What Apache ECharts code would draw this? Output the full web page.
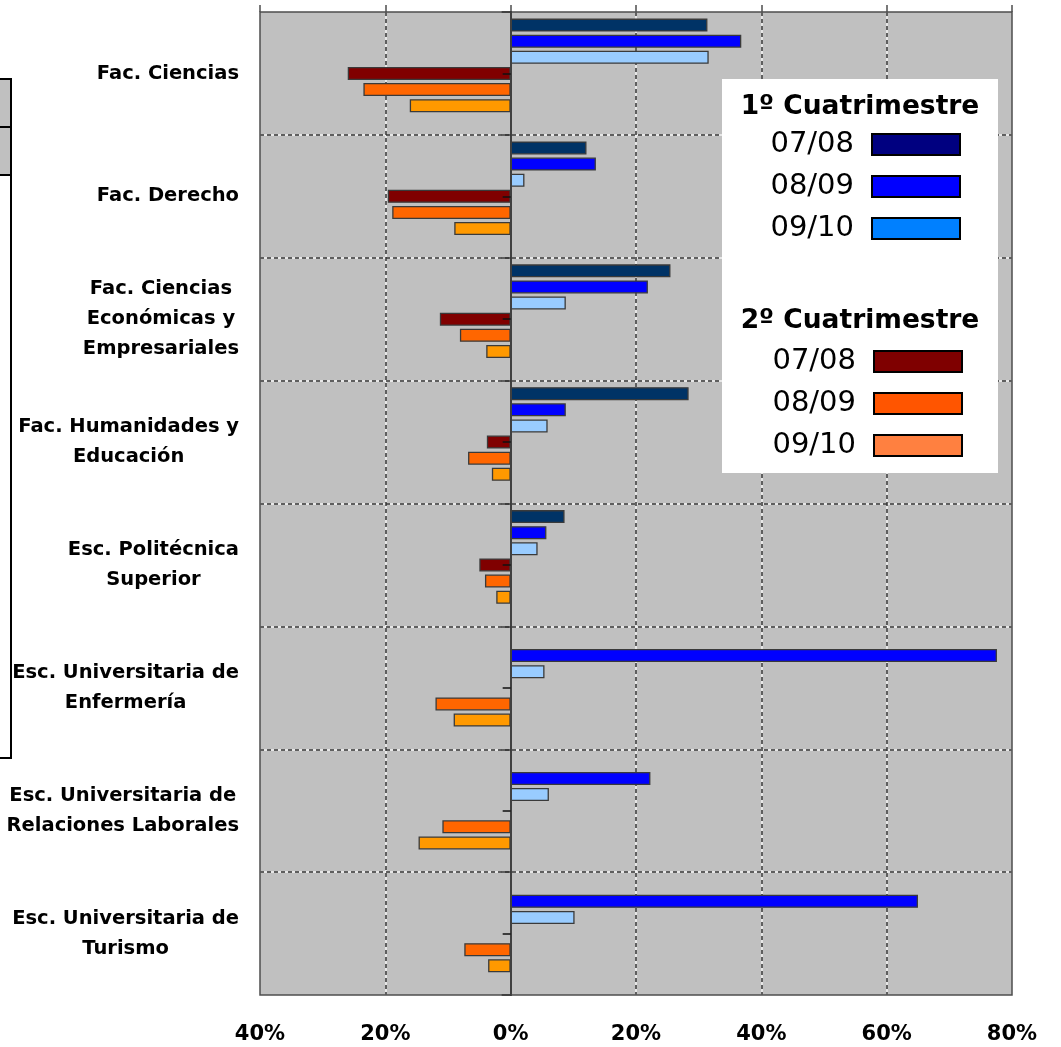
<!DOCTYPE html>
<html lang="es">
<head>
<meta charset="utf-8">
<title>Variación por centro y cuatrimestre</title>
<script src="https://cdn.jsdelivr.net/npm/echarts@6/dist/echarts.min.js"></script>
<style>
  html, body { margin: 0; padding: 0; background: #ffffff; }
  #main { width: 1061px; height: 1047px; }
</style>
</head>
<body>
<div id="main"></div>
<script>
// Centros (de arriba abajo)
const categories = [
  'Fac. Ciencias',
  'Fac. Derecho',
  'Fac. Ciencias\nEconómicas y\nEmpresariales',
  'Fac. Humanidades y\nEducación',
  'Esc. Politécnica\nSuperior',
  'Esc. Universitaria de\nEnfermería',
  'Esc. Universitaria de\nRelaciones Laborales',
  'Esc. Universitaria de\nTurismo'
];

// 1º Cuatrimestre (valores positivos, %)
const c1_0708 = [31.4, 12.1, 25.5, 28.4, 8.6, null, null, null];
const c1_0809 = [36.8, 13.6, 21.9, 8.8, 5.7, 77.6, 22.3, 65.0];
const c1_0910 = [31.6, 2.2, 8.8, 5.9, 4.3, 5.4, 6.1, 10.2];

// 2º Cuatrimestre (se dibuja hacia la izquierda, %)
const c2_0708 = [-26.0, -19.6, -11.3, -3.8, -5.0, null, null, null];
const c2_0809 = [-23.5, -18.9, -8.1, -6.8, -4.1, -12.0, -10.9, -7.4];
const c2_0910 = [-16.1, -9.0, -3.9, -3.0, -2.3, -9.1, -14.7, -3.6];

// Eje de porcentajes
const xTicks = [-40, -20, 0, 20, 40, 60, 80];

const FONT = 'DejaVu Sans';

const barColors = ['#003366', '#0000ff', '#99ccff', '#800000', '#ff6600', '#ff9900'];
const legendColors = ['#000080', '#0000ff', '#0080ff', '#7f0000', '#ff5500', '#ff8040'];

const seriesDefs = [
  { name: '1º Cuatrimestre 07/08', data: c1_0708 },
  { name: '1º Cuatrimestre 08/09', data: c1_0809 },
  { name: '1º Cuatrimestre 09/10', data: c1_0910 },
  { name: '2º Cuatrimestre 07/08', data: c2_0708 },
  { name: '2º Cuatrimestre 08/09', data: c2_0809 },
  { name: '2º Cuatrimestre 09/10', data: c2_0910 }
];

const BAR_W = 13;

const series = seriesDefs.map((s, i) => ({
  name: s.name,
  type: 'bar',
  xAxisIndex: 0,
  yAxisIndex: 0,
  data: s.data,
  barWidth: BAR_W,
  barGap: '24%',
  z: 3,
  itemStyle: { color: barColors[i], borderColor: '#3a3a3a', borderWidth: 1.3 },
  emphasis: { disabled: true }
}));
// empty slot below the six bars of each centre
series.push({
  name: 'hueco',
  type: 'bar',
  xAxisIndex: 0,
  yAxisIndex: 0,
  data: categories.map(() => null),
  barWidth: BAR_W,
  barGap: '24%',
  silent: true
});

function legendBlock(start, right, top) {
  return {
    orient: 'vertical',
    right: right,
    top: top,
    padding: 0,
    itemWidth: 88,
    itemHeight: 21,
    itemGap: 13,
    align: 'right',
    icon: 'rect',
    z: 20,
    selectedMode: false,
    formatter: (n) => n.split(' ').pop(),
    textStyle: { fontFamily: FONT, fontSize: 29, color: '#000', padding: [0, 13, 0, 0] },
    data: [0, 1, 2].map(k => ({
      name: seriesDefs[start + k].name,
      itemStyle: { color: legendColors[start + k], borderColor: '#000', borderWidth: 2 }
    }))
  };
}

const categoryLabel = {
  interval: 0,
  align: 'right',
  margin: 21,
  formatter: (v) => v.split('\n').map(l => '{c|' + l + '}').join('\n'),
  rich: {
    c: { align: 'center', fontFamily: FONT, fontSize: 19.5, fontWeight: 'bold', lineHeight: 30, color: '#000' }
  }
};

// dashed dark grid drawn over a thin white line
const gridWhite = { color: '#f4f4f4', width: 1.5 };
const gridDash = { color: '#333333', width: 1.5, type: [4, 3] };

const option = {
  animation: false,
  backgroundColor: '#ffffff',
  grid: {
    left: 260, right: 49, top: 12, bottom: 52,
    show: true,
    backgroundColor: '#c0c0c0',
    borderColor: '#4d4d4d',
    borderWidth: 1.5
  },
  xAxis: [
    {
      type: 'value', position: 'bottom', z: 1,
      min: xTicks[0], max: xTicks[xTicks.length - 1], interval: 20,
      axisLine: { show: false },
      axisTick: { show: false },
      axisLabel: {
        margin: 29,
        fontFamily: FONT, fontSize: 21, fontWeight: 'bold', color: '#000',
        formatter: (v) => Math.abs(v) + '%'
      },
      splitLine: { show: true, showMinLine: false, showMaxLine: false, lineStyle: gridDash }
    },
    {
      type: 'value', position: 'top', z: 0,
      min: xTicks[0], max: xTicks[xTicks.length - 1], interval: 20,
      axisLine: { show: false },
      axisTick: { show: true, length: 7, lineStyle: { color: '#4d4d4d', width: 1.5 } },
      axisLabel: { show: false },
      splitLine: { show: true, showMinLine: false, showMaxLine: false, lineStyle: gridWhite }
    }
  ],
  yAxis: [
    {
      type: 'category', data: categories, inverse: true, position: 'left', z: 1,
      axisLine: { show: false, onZero: false },
      axisTick: { show: false },
      axisLabel: categoryLabel,
      splitLine: { show: true, interval: 0, showMinLine: false, showMaxLine: false, lineStyle: gridDash }
    },
    {
      type: 'category', data: categories, inverse: true, position: 'left', z: 5,
      axisLine: { show: true, onZero: true, lineStyle: { color: '#404040', width: 2 } },
      axisTick: { show: true, interval: 0, length: 9, lineStyle: { color: '#333', width: 1.5 } },
      axisLabel: { show: false },
      splitLine: { show: false }
    },
    {
      type: 'category', data: categories, inverse: true, position: 'left', z: 5,
      axisLine: { show: true, onZero: true, lineStyle: { color: '#404040', width: 2 } },
      axisTick: { show: true, interval: 0, alignWithLabel: true, length: 8, lineStyle: { color: '#111', width: 1.5 } },
      axisLabel: { show: false },
      splitLine: { show: false }
    },
    {
      type: 'category', data: categories, inverse: true, position: 'left', z: 0,
      axisLine: { show: false, onZero: false },
      axisTick: { show: false },
      axisLabel: { show: false },
      splitLine: { show: true, interval: 0, showMinLine: false, showMaxLine: false, lineStyle: gridWhite }
    }
  ],
  legend: [legendBlock(0, 100, 130), legendBlock(3, 98, 347)],
  graphic: [
    // legend panel
    { type: 'rect', left: 722, top: 79, shape: { width: 276, height: 394 }, style: { fill: '#ffffff' }, z: 10 },
    { type: 'text', x: 860, y: 107, z: 20,
      style: { text: '1º Cuatrimestre', fontFamily: FONT, fontSize: 26.5, fontWeight: 'bold', fill: '#000', align: 'center', verticalAlign: 'middle' } },
    { type: 'text', x: 860, y: 321, z: 20,
      style: { text: '2º Cuatrimestre', fontFamily: FONT, fontSize: 26.5, fontWeight: 'bold', fill: '#000', align: 'center', verticalAlign: 'middle' } },
    // edge of the adjacent summary table
    { type: 'rect', shape: { x: -6, y: 79, width: 17, height: 679 }, style: { fill: '#ffffff', stroke: '#000', lineWidth: 2 }, z: 1 },
    { type: 'rect', shape: { x: -6, y: 79, width: 17, height: 96 }, style: { fill: '#c0c0c0', stroke: '#000', lineWidth: 2 }, z: 1 },
    { type: 'line', shape: { x1: -6, y1: 127, x2: 11, y2: 127 }, style: { stroke: '#000', lineWidth: 2 }, z: 1 }
  ],
  series: series
};

const chart = echarts.init(document.getElementById('main'), null, { renderer: 'canvas' });
chart.setOption(option);
</script>
</body>
</html>
